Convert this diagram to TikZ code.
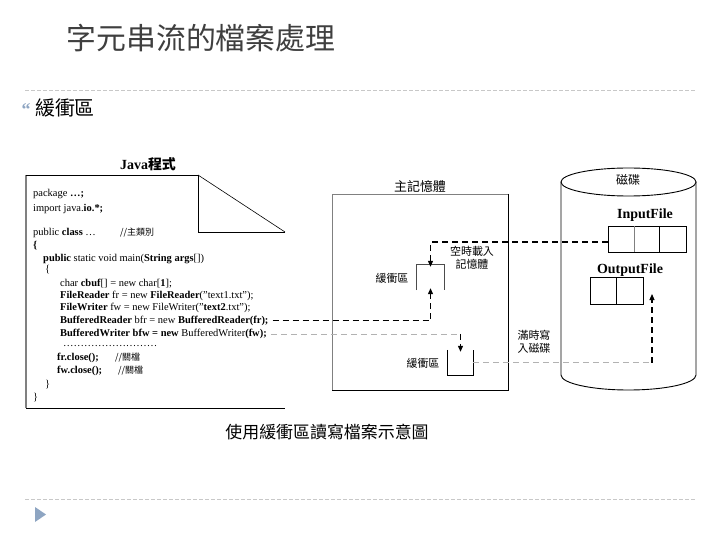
\documentclass[tikz,border=0pt]{standalone}
\usepackage{fontspec}
\setmainfont{Liberation Serif}
\newfontfamily\cjk{Noto Sans CJK TC}
\usetikzlibrary{arrows.meta}
\definecolor{titlegray}{HTML}{3F3F3F}
\definecolor{rulegray}{HTML}{C8C8C8}
\definecolor{bulletblue}{HTML}{8EA5C2}
\tikzset{
 code/.style={anchor=base west, inner sep=0, font=\fontsize{10.5}{12}\selectfont},
 lbl/.style={inner sep=0, font=\cjk\fontsize{11}{13}\selectfont},
 dashblack/.style={line width=1.1bp, dash pattern=on 6bp off 4bp},
 dashgray/.style={line width=0.8bp, gray!60, dash pattern=on 6bp off 4bp},
 tip/.style={-{Triangle[width=5bp,length=6bp]}},
 rulel/.style={rulegray, line width=0.6bp, dash pattern=on 4bp off 2bp},
 bufbox/.style={minimum width=27bp, minimum height=25bp, inner sep=0},
 filebox/.style={draw, line width=0.9bp, inner sep=0, minimum height=26bp},
}
\begin{document}
\begin{tikzpicture}[x=1bp,y=-1bp]
\useasboundingbox (0,0) rectangle (720,540);
% header
\node[font=\cjk\fontsize{30}{36}\selectfont, text=titlegray] (title) at (201,38) {字元串流的檔案處理};
\draw[rulel] (25,90) -- (697,90);
\node[text=bulletblue, font=\bfseries\fontsize{18}{18}\selectfont, inner sep=0] (bul) at (26,110) {“};
\node[font=\cjk\fontsize{20}{24}\selectfont, inner sep=0] (sub) at (65,108) {緩衝區};
% Java program box
\node[font=\bfseries\fontsize{14}{16}\selectfont, inner sep=0] (jt) at (148,164) {Java{\cjk 程式}};
\draw[gray, line width=1.4bp] (26,175) -- (26,408);
\draw[line width=0.9bp] (26,175) -- (198,175) -- (198,232) -- (285,232);
\draw[line width=0.6bp] (198,175) -- (285,232);
\draw[line width=0.9bp] (26,408) -- (285,408);
\node[code] (c1) at (33,196.5) {package \textbf{…;}};
\node[code] (c2) at (33,211.5) {import java.\textbf{io.*;}};
\node[code] (c3) at (33,235.5) {public \textbf{class} …};
\node[code, font=\cjk\fontsize{9}{11}\selectfont] (m1) at (120,235.5) {//主類別};
\node[code] (c4) at (33,248.5) {\textbf{\{}};
\node[code] (c5) at (43,261.5) {\textbf{public} static void main(\textbf{String args}[])};
\node[code] (c6) at (45,273) {\{};
\node[code] (c7) at (60,286.5) {char \textbf{cbuf}[] = new char[\textbf{1}];};
\node[code] (c8) at (60,298.5) {\textbf{FileReader} fr = new \textbf{FileReader}("text1.txt");};
\node[code] (c9) at (60,310.5) {\textbf{FileWriter} fw = new FileWriter("\textbf{text2}.txt");};
\node[code] (br) at (60,323.5) {\textbf{BufferedReader} bfr = new \textbf{BufferedReader(fr);}};
\node[code] (bw) at (60,336.5) {\textbf{BufferedWriter bfw = new} BufferedWriter\textbf{(fw);}};
\node[code] (c12) at (63,346) {………………………};
\node[code] (c13) at (57,360.5) {\textbf{fr.close();}};
\node[code, font=\cjk\fontsize{9}{11}\selectfont] (m2) at (115,360.5) {//關檔};
\node[code] (c14) at (57,373.5) {\textbf{fw.close();}};
\node[code, font=\cjk\fontsize{9}{11}\selectfont] (m3) at (118,373.5) {//關檔};
\node[code] (c15) at (45,387.5) {\}};
\node[code] (c16) at (33,400) {\}};
% main memory
\node[font=\cjk\fontsize{13}{15}\selectfont, inner sep=0] (mt) at (420,187) {主記憶體};
\draw[gray, line width=0.7bp] (332,390) -- (332,194) -- (508,194);
\draw[line width=0.9bp] (508,194) -- (508,390) -- (332,390);
\node[bufbox] (buf1) at (430.5,277.5) {};
\draw[gray!60!black, line width=1.3bp] (buf1.south west) -- (buf1.north west) -- (buf1.north east) -- (buf1.south east);
\node[bufbox, minimum width=25bp] (buf2) at (460.5,362.5) {};
\draw[line width=1bp] (buf2.north west) -- (buf2.south west) -- (buf2.south east) -- (buf2.north east);
\node[lbl] (l1) at (392,278) {緩衝區};
\node[lbl] (l2) at (423,363) {緩衝區};
\node[lbl, align=center] (l3) at (472,258) {空時載入\\記憶體};
\node[lbl, align=center] (l4) at (534,341.5) {滿時寫\\入磁碟};
% disk
\draw[line width=0.9bp] (561,182) -- (561,375) arc[start angle=180, end angle=360, x radius=67.5bp, y radius=15bp] -- (696,182);
\draw[line width=0.9bp, fill=white] (628.5,182) ellipse[x radius=67.5bp, y radius=14bp];
\node[font=\cjk\fontsize{12}{14}\selectfont, inner sep=0] (dt) at (628,180) {磁碟};
\node[font=\bfseries\fontsize{14}{16}\selectfont, inner sep=0] (it) at (645,215) {InputFile};
\node[filebox, minimum width=78bp] (inp) at (647,239) {};
\draw[gray, line width=0.7bp] (634,226) -- (634,252);
\draw[line width=0.9bp] (659,226) -- (659,252);
\node[font=\bfseries\fontsize{14}{16}\selectfont, inner sep=0] (ot) at (630,270) {OutputFile};
\node[filebox, minimum width=53bp, minimum height=27bp] (outf) at (616.5,290.5) {};
\draw[line width=0.9bp] (616,277) -- (616,304);
% connectors
\draw[dashblack, tip, shorten <=4bp, shorten >=-2bp] (br.east) -| (buf1.south);
\coordinate (wcorner) at (bw.east -| buf2.north);
\draw[dashgray, shorten <=4bp] (bw.east) -- (wcorner);
\draw[dashblack, tip, shorten >=-2bp] (wcorner) -- (buf2.north);
\draw[dashblack, tip, shorten >=-2bp] ([yshift=-3bp]inp.west) -| (buf1.north);
\coordinate (outtip) at (652,294);
\draw[dashgray] (buf2.east) -- (buf2.east -| outtip);
\draw[dashblack, tip] (buf2.east -| outtip) -- (outtip);
% caption and footer
\node[font=\cjk\fontsize{17}{20}\selectfont, inner sep=0] (cap) at (327,432) {使用緩衝區讀寫檔案示意圖};
\draw[rulel] (25,499) -- (697,499);
\fill[bulletblue] (35,507) -- (46,514.5) -- (35,522) -- cycle;
\end{tikzpicture}
\end{document}
